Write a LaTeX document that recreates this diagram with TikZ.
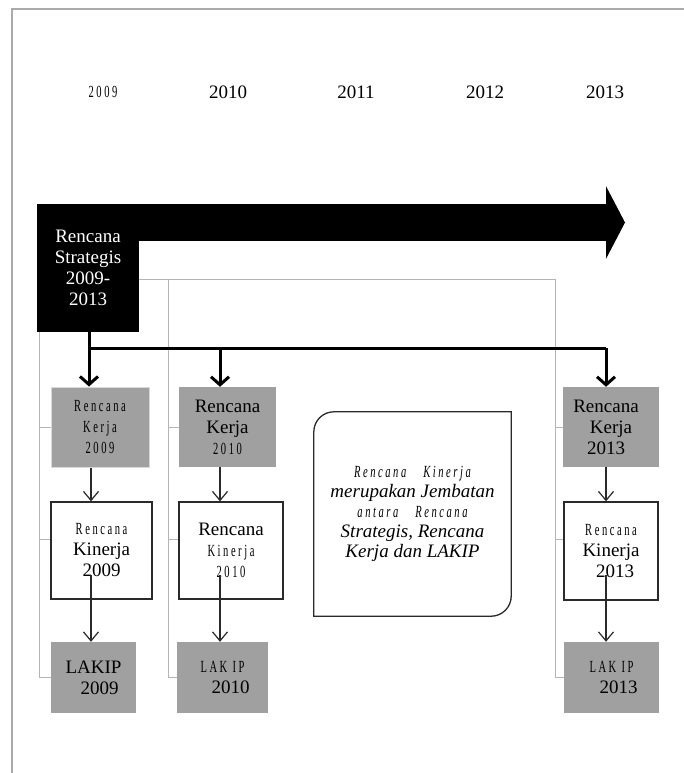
\documentclass[tikz,border=0pt]{standalone}
\usepackage{fontspec}
\setmainfont{Liberation Serif}
\newfontfamily\spacedserif[FakeStretch=0.62, LetterSpace=15]{Liberation Serif}
\usetikzlibrary{arrows.meta,calc}

% narrow, letter-spaced text used for some lines
\newcommand\smtxt[1]{{\spacedserif\fontsize{17}{21}\selectfont #1}}

\definecolor{boxgray}{HTML}{A0A0A0}
\definecolor{guide}{HTML}{B4B4B4}
\definecolor{framegray}{HTML}{ABABAB}
\definecolor{ink}{HTML}{2A2A2A}

\begin{document}
\begin{tikzpicture}[x=1pt,y=-1pt,
  every node/.style={inner sep=0pt, align=center, font=\fontsize{19}{21}\selectfont},
  stratbox/.style={fill=black, text=white},
  graybox/.style={fill=boxgray},
  whitebox/.style={fill=white, draw=ink, line width=1.3pt},
  guideline/.style={draw=guide, line width=1pt},
  busline/.style={line width=3pt, black},
  busarrow/.style={line width=3pt, black, -{Straight Barb[length=8pt,width=18pt]}},
  steparrow/.style={line width=1.2pt, ink, -{Straight Barb[length=9pt,width=15pt]}},
  bigarrow/.style={line width=37pt, black, -{Triangle[length=19pt,width=72pt]}},
  notetext/.style={font=\itshape\fontsize{19}{20}\selectfont}
]
\useasboundingbox (0,0) rectangle (684,773);

% page frame
\draw[framegray, line width=1.5pt] (684,9) -- (12,9) -- (12,773);

% year scale
\node (y09) at (103,92) {\smtxt{2009}};
\node (y10) at (228,92) {2010};
\node (y11) at (356,92) {2011};
\node (y12) at (485,92) {2012};
\node (y13) at (605,92) {2013};

% strategic plan and its time arrow
\node[stratbox, minimum width=102pt, minimum height=128pt] (strat) at (88,268)
  {Rencana\\Strategis\\2009-\\2013};
\coordinate (arrowtip) at (625,222.5);
\draw[bigarrow] (strat.east |- arrowtip) -- (arrowtip);

% yearly boxes
\node[graybox, draw=black!15, line width=1pt, minimum width=98pt, minimum height=80pt] (rk09) at (100,427)
  {\smtxt{Rencana}\\\smtxt{Kerja}\\\smtxt{2009}};
\node[whitebox, minimum width=101pt, minimum height=97pt] (ki09) at (101.5,550.5)
  {\smtxt{Rencana}\\Kinerja\\2009};
\node[graybox, minimum width=85pt, minimum height=71pt] (lk09) at (93.5,677.5)
  {LAKIP\\\hspace*{12pt}2009};

\node[graybox, minimum width=97pt, minimum height=80pt] (rk10) at (227.5,427)
  {Rencana\\Kerja\\\smtxt{2010}};
\node[whitebox, minimum width=104pt, minimum height=97pt] (ki10) at (231,550.5)
  {Rencana\\\smtxt{Kinerja}\\\smtxt{2010}};
\node[graybox, minimum width=91pt, minimum height=71pt] (lk10) at (222.5,677.5)
  {\smtxt{LAK IP}\\\hspace*{16pt}2010};

\node[graybox, minimum width=96pt, minimum height=80pt] (rk13) at (611,427)
  {Rencana\hspace*{10pt}\\Kerja\hspace*{10pt}\\2013\hspace*{10pt}};
\node[whitebox, minimum width=94pt, minimum height=98pt] (ki13) at (611,551)
  {\smtxt{Rencana}\\Kinerja\\\hspace*{8pt}2013};
\node[graybox, minimum width=95pt, minimum height=71pt] (lk13) at (611.5,677.5)
  {\smtxt{LAK IP}\\\hspace*{14pt}2013};

% explanatory note with two rounded corners
\node[notetext, minimum width=197pt, minimum height=204pt] (note) at (412.5,514)
  {\smtxt{\itshape Rencana\quad Kinerja}\\merupakan Jembatan\\\smtxt{\itshape antara\quad Rencana}\\Strategis, Rencana\\Kerja dan LAKIP};
\draw[ink, line width=1.3pt]
  (note.north east) -- ($(note.south east)+(0,-20)$)
  .. controls ($(note.south east)+(0,-9)$) and ($(note.south east)+(-9,0)$) .. ($(note.south east)+(-20,0)$)
  -- (note.south west) -- ($(note.north west)+(0,20)$)
  .. controls ($(note.north west)+(0,9)$) and ($(note.north west)+(9,0)$) .. ($(note.north west)+(20,0)$)
  -- cycle;

% thin guide lines behind the columns
\coordinate (g0) at (39,332);
\coordinate (g1) at (168,279);
\coordinate (g2) at (555,279);
\coordinate (kstub) at (0,539);
\draw[guideline] (g0) -- (g0 |- lk09) -- (lk09.west);
\draw[guideline] (g0 |- rk09) -- (rk09.west);
\draw[guideline] (g0 |- kstub) -- (ki09.west |- kstub);
\draw[guideline] (strat.east |- g1) -- (g2) -- (g2 |- lk13) -- (lk13.west);
\draw[guideline] (g2 |- rk13) -- (rk13.west);
\draw[guideline] (g2 |- kstub) -- (ki13.west |- kstub);
\draw[guideline] (g1) -- (g1 |- lk10) -- (lk10.west);
\draw[guideline] (g1 |- rk10) -- (rk10.west);
\draw[guideline] (g1 |- kstub) -- (ki10.west |- kstub);

% distribution bus from the strategic plan
\coordinate (b1) at (89,348);
\coordinate (b2) at (220,348);
\coordinate (b3) at (606,348);
\draw[busline] (strat.south -| b1) -- (b1) -- (b3);
\draw[busarrow] (b1) -- (b1 |- rk09.north);
\draw[busarrow] (b2) -- (b2 |- rk10.north);
\draw[busarrow] (b3) -- (b3 |- rk13.north);

% yearly flow: work plan -> performance plan -> LAKIP
\coordinate (c1) at (91,575);
\coordinate (c2) at (220,575);
\coordinate (c3) at (606,575);
\draw[steparrow] (rk09.south -| c1) -- (ki09.north -| c1);
\draw[steparrow] (c1) -- (lk09.north -| c1);
\draw[steparrow] (rk10.south -| c2) -- (ki10.north -| c2);
\draw[steparrow] (c2) -- (lk10.north -| c2);
\draw[steparrow] (rk13.south -| c3) -- (ki13.north -| c3);
\draw[steparrow] (c3) -- (lk13.north -| c3);
\end{tikzpicture}
\end{document}
